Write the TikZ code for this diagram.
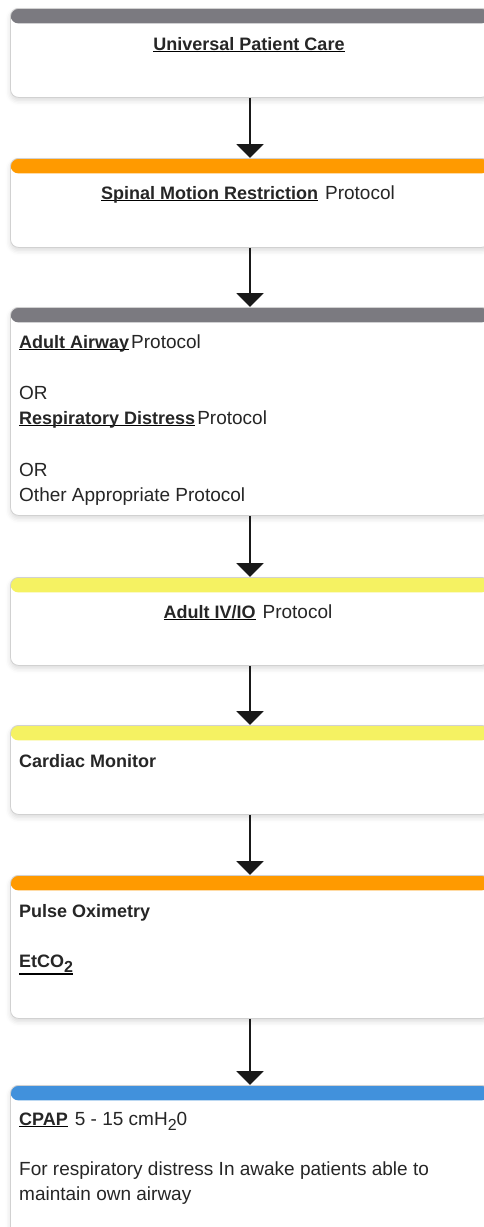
\documentclass[tikz,border=0pt]{standalone}
\usepackage{fontspec}
\setmainfont{Liberation Sans}
\usetikzlibrary{arrows.meta,shadows.blur}

\definecolor{wwwwxx}{rgb}{0.482, 0.478, 0.502}
\definecolor{ffzzqq}{rgb}{1, 0.604, 0}
\definecolor{ffffww}{rgb}{0.961, 0.949, 0.384}
\definecolor{qqzzff}{rgb}{0.255, 0.569, 0.863}
\definecolor{tttttt}{rgb}{0.15, 0.15, 0.15}

% texto en negrita (y subrayado)
\newcommand{\negr}[1]{{\fontsize{18}{25}\selectfont\bfseries #1}}
\newcommand{\lnk}[2][2.4pt]{\setbox0\hbox{\negr{#2}}\rlap{\color{black}\rule[-#1]{\wd0}{1.3pt}}\box0}
\newcommand{\sub}[1]{{\fontsize{16}{16}\selectfont\raisebox{-5pt}{#1}}}

\begin{document}
\begin{tikzpicture}[x=1pt,y=-1pt,
    caja/.style={draw=black!18, line width=0.8pt, fill=white, rounded corners=8pt,
        minimum width=479pt, inner sep=0pt, anchor=north,
        blur shadow={shadow xshift=0pt, shadow yshift=-3pt, shadow blur radius=5pt, shadow opacity=15},
        path picture={\fill[#1] (path picture bounding box.north west) rectangle ([yshift=-15pt]path picture bounding box.north east);}},
    flecha/.style={draw=black!90, line width=2.2pt, -{Triangle[width=27pt,length=14pt]}},
    txt/.style={font=\fontsize{19}{25}\selectfont, text=tttttt, inner sep=0pt}]
        \useasboundingbox (0, 0) rectangle (483, 1227);

        \node[caja=wwwwxx, minimum height=89pt] (b1) at (250, 8) {};
        \node[caja=ffzzqq, minimum height=89pt] (b2) at (250, 158) {};
        \node[caja=wwwwxx, minimum height=208pt] (b3) at (250, 307) {};
        \node[caja=ffffww, minimum height=88pt] (b4) at (250, 577) {};
        \node[caja=ffffww, minimum height=89pt] (b5) at (250, 725) {};
        \node[caja=ffzzqq, minimum height=143pt] (b6) at (250, 875) {};
        \node[caja=qqzzff, minimum height=170pt] (b7) at (250, 1085) {};

        \foreach \a/\b in {b1/b2, b2/b3, b3/b4, b4/b5, b5/b6, b6/b7}
        \draw[flecha] (\a.south) -- (\b.north);

        \node[txt, anchor=base] (t1) at (249, 50) {\lnk{Universal Patient Care}};
        \node[txt, anchor=base] (t2) at (248, 199) {\lnk{Spinal Motion Restriction}\hspace{7pt}Protocol};

        \node[txt, anchor=base west] (t3a) at (19, 348) {\lnk{Adult Airway}\hspace{2pt}Protocol};
        \node[txt, anchor=base west] (t3b) at (19, 399) {OR};
        \node[txt, anchor=base west] (t3c) at (19, 424) {\lnk{Respiratory Distress}\hspace{2pt}Protocol};
        \node[txt, anchor=base west] (t3d) at (19, 476) {OR};
        \node[txt, anchor=base west] (t3e) at (19, 501) {Other Appropriate Protocol};

        \node[txt, anchor=base] (t4) at (248, 618) {\lnk{Adult IV/IO}\hspace{7pt}Protocol};

        \node[txt, anchor=base west] (t5) at (19, 767) {\negr{Cardiac Monitor}};

        \node[txt, anchor=base west] (t6a) at (19, 917) {\negr{Pulse Oximetry}};
        \node[txt, anchor=base west] (t6b) at (19, 967) {\lnk[7.5pt]{EtCO\sub{2}}};

        \node[txt, anchor=base west] (t7a) at (19, 1125) {\lnk{CPAP}\hspace{7pt}5 - 15 cmH\sub{2}0};
        \node[txt, anchor=base west] (t7b) at (19, 1175) {For respiratory distress In awake patients able to};
        \node[txt, anchor=base west] (t7c) at (19, 1200) {maintain own airway};
    \end{tikzpicture}
\end{document}
